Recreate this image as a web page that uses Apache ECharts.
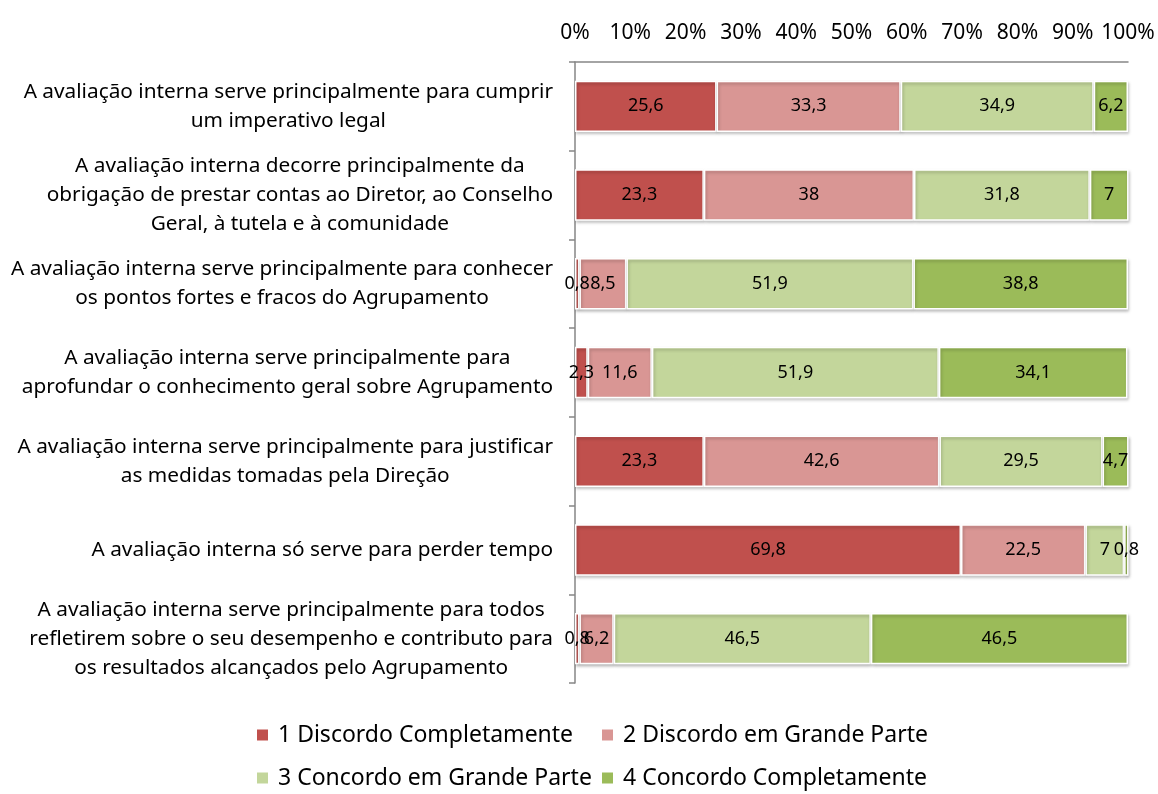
<!DOCTYPE html>
<html>
<head>
<meta charset="utf-8">
<script src="https://cdn.jsdelivr.net/npm/echarts@6/dist/echarts.min.js"></script>
<style>
    html, body { margin: 0; padding: 0; background: #fff; }
    #chart { width: 1158px; height: 794px; }
</style>
</head>
<body>
<div id="chart"></div>
<script>
const categories = [
    'A avaliação interna serve principalmente para cumprir\num imperativo legal',
    'A avaliação interna decorre principalmente da\nobrigação de prestar contas ao Diretor, ao Conselho\nGeral, à tutela e à comunidade',
    'A avaliação interna serve principalmente para conhecer\nos pontos fortes e fracos do Agrupamento',
    'A avaliação interna serve principalmente para\naprofundar o conhecimento geral sobre Agrupamento',
    'A avaliação interna serve principalmente para justificar\nas medidas tomadas pela Direção',
    'A avaliação interna só serve para perder tempo',
    'A avaliação interna serve principalmente para todos\nrefletirem sobre o seu desempenho e contributo para\nos resultados alcançados pelo Agrupamento',
]

const seriesNames = [
    '1 Discordo Completamente',
    '2 Discordo em Grande Parte',
    '3 Concordo em Grande Parte',
    '4 Concordo Completamente',
]

const discordoCompletamente = [25.6, 23.3, 0.8, 2.3, 23.3, 69.8, 0.8]
const discordoGrandeParte = [33.3, 38, 8.5, 11.6, 42.6, 22.5, 6.2]
const concordoGrandeParte = [34.9, 31.8, 51.9, 51.9, 29.5, 7, 46.5]
const concordoCompletamente = [6.2, 7, 38.8, 34.1, 4.7, 0.8, 46.5]

const tickLabels = [0, 10, 20, 30, 40, 50, 60, 70, 80, 90, 100]

const colors = ['#C0504D', '#D99694', '#C3D69B', '#9BBB59']
const FONT = 'Noto Sans'

const values = [discordoCompletamente, discordoGrandeParte, concordoGrandeParte, concordoCompletamente]

const myChart = echarts.init(document.getElementById('chart'))

const series = values.map((arr, i) => ({
    name: seriesNames[i],
    type: 'bar',
    stack: 'total',
    barWidth: '58%',
    data: arr,
    itemStyle: {
        color: colors[i],
        borderColor: '#fff',
        borderWidth: 1.5,
        shadowColor: 'rgba(0,0,0,0.25)',
        shadowBlur: 3,
        shadowOffsetX: 1,
        shadowOffsetY: 2,
    },
    label: {
        show: true,
        position: 'inside',
        color: '#000',
        fontFamily: FONT,
        fontSize: 18,
        formatter: p => String(p.value).replace('.', ','),
    },
}))

const legendBase = {
    orient: 'vertical',
    top: 723,
    itemGap: 19,
    itemWidth: 13,
    itemHeight: 13,
    icon: 'rect',
    padding: 0,
    textStyle: { color: '#000', fontFamily: FONT, fontSize: 23, lineHeight: 24, padding: [0, 0, 0, 4] },
}

const option = {
    animation: false,
    backgroundColor: '#fff',
    grid: {
        left: 575,
        right: 30,
        top: 62,
        bottom: 111,
    },
    xAxis: {
        type: 'value',
        position: 'top',
        min: 0,
        max: 100,
        interval: 10,
        axisLine: { show: true, lineStyle: { color: '#868686', width: 1.5 } },
        axisTick: { show: false },
        splitLine: { show: false },
        axisLabel: {
            margin: 18,
            color: '#000',
            fontFamily: FONT,
            fontSize: 21,
            formatter: v => (tickLabels.includes(v) ? v + '%' : ''),
        },
    },
    yAxis: {
        type: 'category',
        inverse: true,
        data: categories,
        axisLine: { show: true, lineStyle: { color: '#868686', width: 1.5 } },
        axisTick: { show: true, length: 6, lineStyle: { color: '#868686', width: 1.5 } },
        axisLabel: {
            margin: 22,
            color: '#000',
            fontFamily: FONT,
            fontSize: 20.8,
            lineHeight: 29,
            // 每行居中，整体右对齐
            formatter: v => v.split('\n').map(s => '{c|' + s + '}').join('\n'),
            rich: {
                c: {
                    align: 'center',
                    color: '#000',
                    fontFamily: FONT,
                    fontSize: 20.8,
                    lineHeight: 29,
                },
            },
        },
    },
    // 图例按两列排列
    legend: [
        { ...legendBase, left: 255, data: [seriesNames[0], seriesNames[2]] },
        { ...legendBase, left: 600, data: [seriesNames[1], seriesNames[3]] },
    ],
    series,
}

myChart.setOption(option)
</script>
</body>
</html>
